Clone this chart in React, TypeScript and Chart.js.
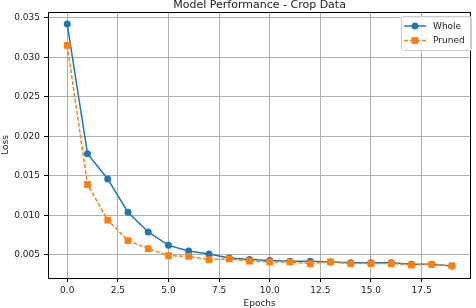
import React, { useEffect, useRef } from "react";
import { Chart, registerables } from "chart.js";

Chart.register(...registerables);

const epochs = [0, 1, 2, 3, 4, 5, 6, 7, 8, 9, 10, 11, 12, 13, 14, 15, 16, 17, 18, 19];
const wholeLoss = [0.0342, 0.0178, 0.0146, 0.0104, 0.0079, 0.0062, 0.0055, 0.0051, 0.0046, 0.0044, 0.0043, 0.0042, 0.0042, 0.0041, 0.0040, 0.0040, 0.0040, 0.0038, 0.0038, 0.0036];
const prunedLoss = [0.0315, 0.0139, 0.0094, 0.0068, 0.0058, 0.0049, 0.0048, 0.0044, 0.0045, 0.0042, 0.0041, 0.0041, 0.0039, 0.0041, 0.0039, 0.0039, 0.0039, 0.0037, 0.0038, 0.0036];
const xTicks = [0, 2.5, 5, 7.5, 10, 12.5, 15, 17.5];
const yTicks = [0.005, 0.01, 0.015, 0.02, 0.025, 0.03, 0.035];
const seriesNames = ["Whole", "Pruned"];
const titleText = "Model Performance - Crop Data";
const xLabel = "Epochs";
const yLabel = "Loss";

const BLUE = "#1f77b4";
const ORANGE = "#ff7f0e";
const FONT = "'DejaVu Sans', sans-serif";

function margins(vals: number[]) {
  const mn = Math.min(...vals);
  const mx = Math.max(...vals);
  const m = (mx - mn) * 0.05;
  return [mn - m, mx + m];
}

export default function App() {
  const ref = useRef<HTMLCanvasElement | null>(null);

  useEffect(() => {
    document.body.style.margin = "0";
    const canvas = ref.current;
    if (!canvas) return;
    const [xMin, xMax] = margins(epochs);
    const [yMin, yMax] = margins([...wholeLoss, ...prunedLoss]);

    const decor = {
      id: "decor",
      afterDatasetsDraw(chart: any) {
        const ctx = chart.ctx;
        const a = chart.chartArea;
        ctx.save();
        // spines
        ctx.strokeStyle = "#000";
        ctx.lineWidth = 1;
        ctx.strokeRect(Math.round(a.left) + 0.5, Math.round(a.top) + 0.5, Math.round(a.right - a.left) - 1, Math.round(a.bottom - a.top));
        // legend
        const lx = 401.5, ly = 16.5, lw = 70, lh = 34;
        ctx.beginPath();
        ctx.roundRect(lx, ly, lw, lh, 2);
        ctx.fillStyle = "rgba(255,255,255,0.8)";
        ctx.fill();
        ctx.strokeStyle = "#cccccc";
        ctx.lineWidth = 1;
        ctx.stroke();
        const items = [
          { name: seriesNames[0], color: BLUE, dash: [], shape: "circle", y: 26 },
          { name: seriesNames[1], color: ORANGE, dash: [4, 2], shape: "rect", y: 40.5 },
        ];
        for (const it of items) {
          ctx.beginPath();
          ctx.setLineDash(it.dash);
          ctx.strokeStyle = it.color;
          ctx.lineWidth = 1.5;
          ctx.moveTo(404, it.y);
          ctx.lineTo(426, it.y);
          ctx.stroke();
          ctx.setLineDash([]);
          ctx.fillStyle = it.color;
          ctx.beginPath();
          if (it.shape === "circle") ctx.arc(415, it.y, 3.5, 0, Math.PI * 2);
          else ctx.rect(411.6, it.y - 3.4, 6.8, 6.8);
          ctx.fill();
          ctx.fillStyle = "#222";
          ctx.font = `9px ${FONT}`;
          ctx.textAlign = "left";
          ctx.textBaseline = "middle";
          ctx.fillText(it.name, 433, it.y + 0.5);
        }
        // title
        const cx = (a.left + a.right) / 2;
        ctx.fillStyle = "#222";
        ctx.font = `11px ${FONT}`;
        ctx.textAlign = "center";
        ctx.textBaseline = "alphabetic";
        ctx.fillText(titleText, cx, 8);
        // x label
        ctx.font = `9px ${FONT}`;
        ctx.fillText(xLabel, cx, 306);
        // y label
        ctx.save();
        ctx.translate(8, (a.top + a.bottom) / 2);
        ctx.rotate(-Math.PI / 2);
        ctx.textBaseline = "alphabetic";
        ctx.fillText(yLabel, 0, 0);
        ctx.restore();
        ctx.restore();
      },
    };

    const chart = new Chart(canvas, {
      type: "line",
      data: {
        datasets: [
          {
            label: seriesNames[0],
            data: epochs.map((e, i) => ({ x: e, y: wholeLoss[i] })),
            borderColor: BLUE,
            backgroundColor: BLUE,
            pointBackgroundColor: BLUE,
            pointBorderColor: BLUE,
            borderWidth: 1.5,
            pointRadius: 3.5,
            pointBorderWidth: 0,
            pointStyle: "circle",
            tension: 0,
            order: 1,
          },
          {
            label: seriesNames[1],
            data: epochs.map((e, i) => ({ x: e, y: prunedLoss[i] })),
            borderColor: ORANGE,
            backgroundColor: ORANGE,
            pointBackgroundColor: ORANGE,
            pointBorderColor: ORANGE,
            borderWidth: 1.5,
            borderDash: [4, 2],
            pointRadius: 4.8,
            pointBorderWidth: 0,
            pointStyle: "rect",
            tension: 0,
            order: 0,
          },
        ],
      },
      options: {
        responsive: false,
        animation: false,
        devicePixelRatio: 1,
        layout: { padding: { top: 12, right: 1, left: 0, bottom: 0 } },
        plugins: { legend: { display: false }, title: { display: false }, tooltip: { enabled: false } },
        scales: {
          x: {
            type: "linear",
            min: xMin,
            max: xMax,
            afterFit: (s: any) => { s.height = 30; },
            afterBuildTicks: (s: any) => { s.ticks = xTicks.map((v) => ({ value: v })); },
            ticks: {
              callback: (v: any) => Number(v).toFixed(1),
              font: { family: FONT, size: 9 },
              color: "#222",
              padding: 3,
              maxRotation: 0,
              autoSkip: false,
            },
            grid: { color: "#b0b0b0", lineWidth: 1, tickColor: "#000", tickLength: 4, drawTicks: true },
            border: { display: false },
          },
          y: {
            type: "linear",
            min: yMin,
            max: yMax,
            afterFit: (s: any) => { s.width = 48; },
            afterBuildTicks: (s: any) => { s.ticks = yTicks.map((v) => ({ value: v })); },
            ticks: {
              callback: (v: any) => Number(v).toFixed(3),
              font: { family: FONT, size: 9 },
              color: "#222",
              padding: 4,
              autoSkip: false,
            },
            grid: { color: "#b0b0b0", lineWidth: 1, tickColor: "#000", tickLength: 4, drawTicks: true },
            border: { display: false },
          },
        },
      },
      plugins: [decor],
    } as any);
    return () => chart.destroy();
  }, []);

  return (
    <div style={{ position: "absolute", left: 0, top: 0, width: 476, height: 308, background: "#fff" }}>
      <canvas ref={ref} width={476} height={308} style={{ width: 476, height: 308, display: "block" }} />
    </div>
  );
}
